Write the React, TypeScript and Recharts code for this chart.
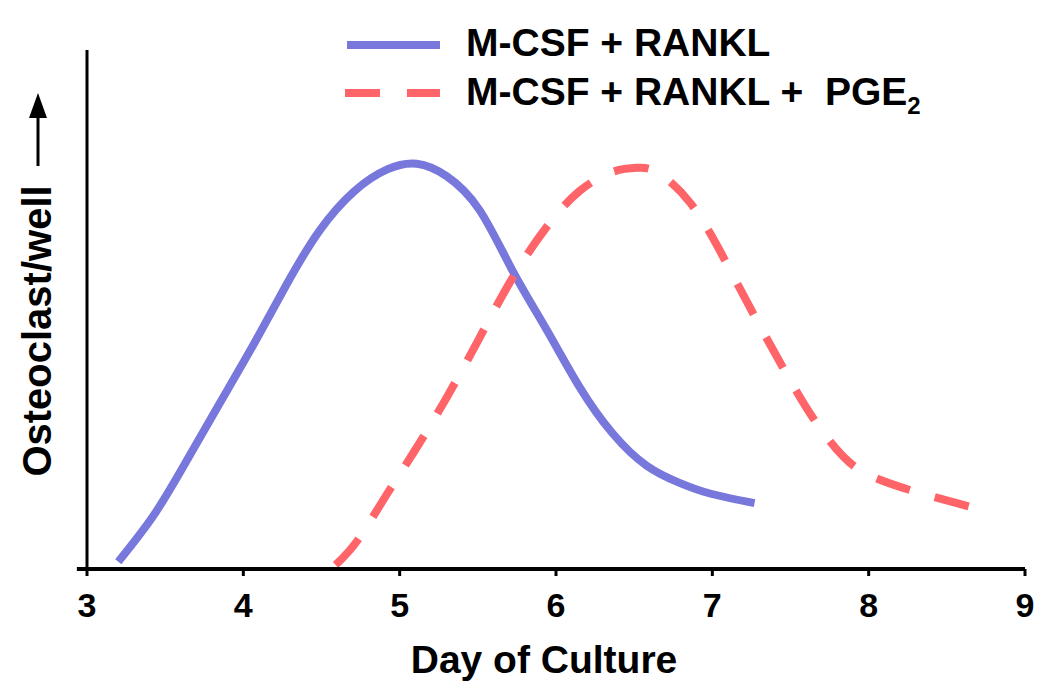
import { LineChart, Line, XAxis, YAxis, ReferenceLine } from "recharts";

// day of culture vs osteoclast count (arbitrary units)
const rankDays = [3.2, 3.43, 3.64, 3.85, 4.07, 4.28, 4.49, 4.71, 4.92, 5.11, 5.3, 5.51, 5.72, 5.94, 6.15, 6.36, 6.58, 6.79, 6.99, 7.27];
const rankValues = [1.4, 10.5, 21, 32, 43.5, 55, 65.3, 72.8, 77, 78.1, 75.7, 69.2, 57.6, 46.1, 35.1, 26.2, 19.9, 16.6, 14.5, 12.7];

const pgeDays = [4.59, 4.73, 4.92, 5.09, 5.3, 5.51, 5.72, 5.94, 6.15, 6.36, 6.52, 6.65, 6.86, 7.07, 7.26, 7.45, 7.64, 7.84, 8.03, 8.31, 8.66];
const pgeValues = [0.8, 5.5, 14.5, 22.5, 33, 44.5, 56, 65.9, 72.8, 76.5, 77.3, 76.4, 70.5, 60.1, 49.3, 38.9, 29.3, 21.6, 17.7, 14.8, 11.9];

const dayTicks = [3, 4, 5, 6, 7, 8, 9];

const rankData = rankDays.map((d, i) => ({ day: d, value: rankValues[i] }));
const pgeData = pgeDays.map((d, i) => ({ day: d, value: pgeValues[i] }));

const FONT = "'Liberation Sans', Arial, sans-serif";
const BLUE = "#7878dc";
const RED = "#ff6468";
const DASH = "35 26";

function LegendBox() {
  return (
    <svg width={1050} height={120} style={{ position: "absolute", left: 0, top: 0 }}>
      <line x1={347} y1={45} x2={440} y2={45} stroke={BLUE} strokeWidth={8} />
      <text x={466} y={56} fontFamily={FONT} fontWeight="bold" fontSize={39} fill="#000">
        M-CSF + RANKL
      </text>
      <line x1={345} y1={93} x2={440} y2={93} stroke={RED} strokeWidth={8} strokeDasharray="35 27" />
      <text x={466} y={105} fontFamily={FONT} fontWeight="bold" fontSize={39} fill="#000" style={{ whiteSpace: "pre" }}>
        {"M-CSF + RANKL +  PGE"}
        <tspan fontSize={24} dy={9}>2</tspan>
      </text>
    </svg>
  );
}

function YLabel() {
  return (
    <g>
      <text
        x={0}
        y={0}
        transform="translate(51, 331) rotate(-90)"
        textAnchor="middle"
        fontFamily={FONT}
        fontWeight="bold"
        fontSize={40}
        fill="#000"
      >
        Osteoclast/well
      </text>
      <line x1={38} y1={166} x2={38} y2={112} stroke="#000" strokeWidth={3} />
      <polygon points="38,93 29,118 47,118" fill="#000" />
    </g>
  );
}

function XLabel(props: any) {
  const vb = props.viewBox || { x: 87, width: 938 };
  return (
    <text
      x={vb.x + vb.width / 2 - 12}
      y={673}
      textAnchor="middle"
      fontFamily={FONT}
      fontWeight="bold"
      fontSize={39}
      fill="#000"
    >
      Day of Culture
    </text>
  );
}

export default function App() {
  return (
    <div style={{ position: "absolute", left: 0, top: 0, width: 1050, height: 692, background: "#fff" }}>
      <LineChart width={1050} height={692} margin={{ top: 50, right: 25, left: 67, bottom: 63 }}>
        <XAxis
          dataKey="day"
          type="number"
          domain={[3, 9]}
          ticks={dayTicks}
          allowDuplicatedCategory={false}
          height={60}
          axisLine={{ stroke: "#000", strokeWidth: 4 }}
          tickLine={{ stroke: "#000", strokeWidth: 3 }}
          tickSize={7}
          tickMargin={17}
          tick={{ fill: "#000", fontSize: 34, fontWeight: "bold", fontFamily: FONT }}
          label={<XLabel />}
        />
        <YAxis
          type="number"
          domain={[0, 100]}
          width={20}
          tick={false}
          tickLine={false}
          axisLine={{ stroke: "#000", strokeWidth: 3 }}
          label={<YLabel />}
        />
        <ReferenceLine
          ifOverflow="visible"
          segment={[
            { x: 2.935, y: 0 },
            { x: 3, y: 0 },
          ]}
          stroke="#000"
          strokeWidth={4}
        />
        <Line
          data={rankData}
          dataKey="value"
          name="M-CSF + RANKL"
          type="natural"
          stroke={BLUE}
          strokeWidth={8}
          dot={false}
          activeDot={false}
          isAnimationActive={false}
        />
        <Line
          data={pgeData}
          dataKey="value"
          name="M-CSF + RANKL + PGE2"
          type="natural"
          stroke={RED}
          strokeWidth={8}
          strokeDasharray={DASH}
          dot={false}
          activeDot={false}
          isAnimationActive={false}
        />
      </LineChart>
      <LegendBox />
    </div>
  );
}
